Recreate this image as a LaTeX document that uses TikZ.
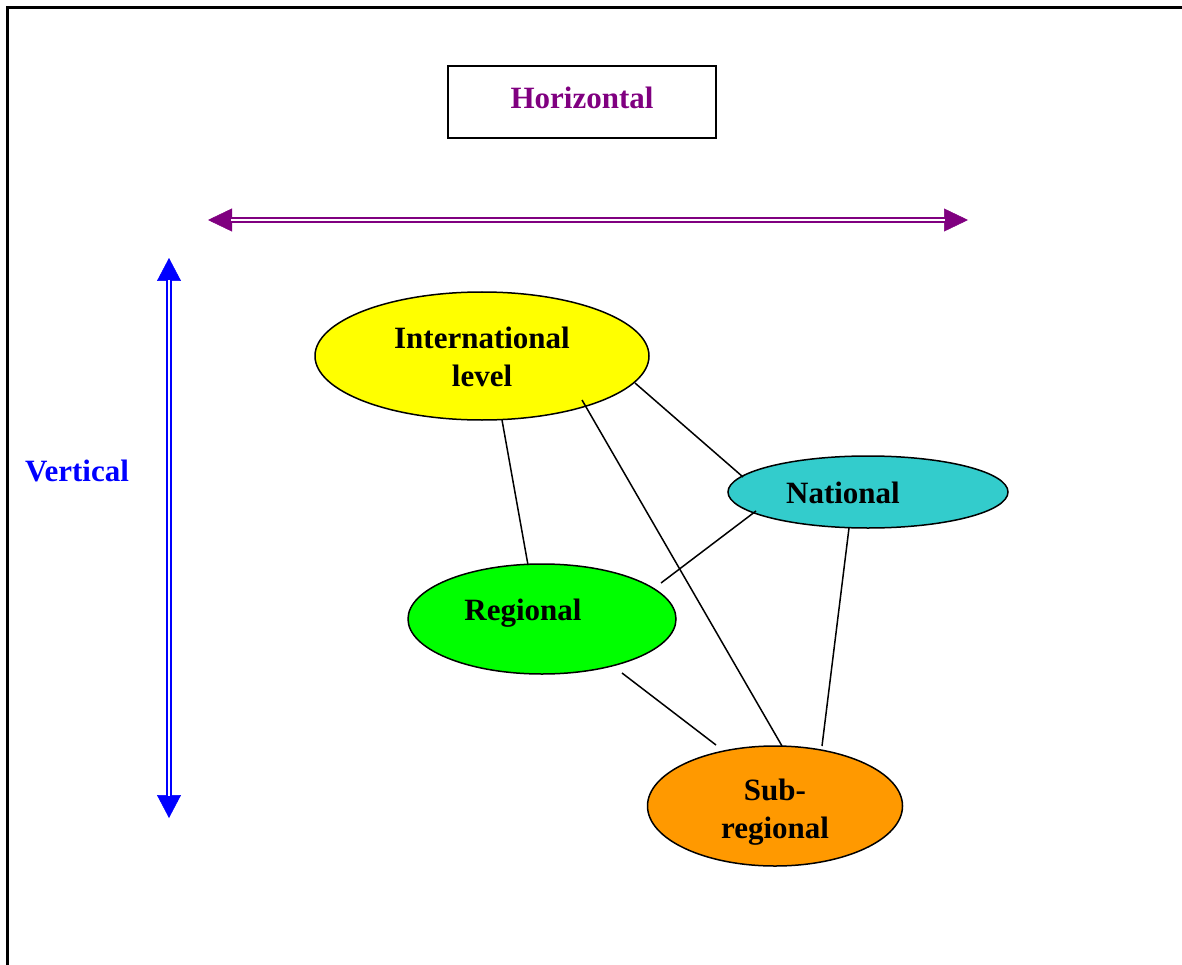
\documentclass[tikz,border=0pt]{standalone}
\usepackage{fontspec}
\setmainfont{Liberation Serif}
\usepackage{tikz}
\usetikzlibrary{arrows.meta, shapes.geometric}
\definecolor{hpurple}{HTML}{800080}
\definecolor{vblue}{HTML}{0000FF}
\definecolor{intlyellow}{HTML}{FFFF00}
\definecolor{natcyan}{HTML}{33CCCC}
\definecolor{reggreen}{HTML}{00FF00}
\definecolor{suborange}{HTML}{FF9900}

\begin{document}
\begin{tikzpicture}[x=1pt, y=-1pt,
    level/.style={ellipse, draw, line width=1.5pt, inner sep=0pt, outer sep=0pt},
    lvltext/.style={font=\fontsize{31}{38}\selectfont\bfseries, align=center},
    link/.style={line width=1.5pt}]
    \useasboundingbox (0,0) rectangle (1182,965);
    % frame
    \draw[line width=3pt] (7,965) -- (7,8) -- (1182,8);

    \node[draw, line width=2pt, minimum width=268pt, minimum height=72pt, text depth=9pt,
          text=hpurple, font=\fontsize{31}{38}\selectfont\bfseries] (hbox) at (582,102) {Horizontal};
    \node[text=vblue, font=\fontsize{31}{38}\selectfont\bfseries] (vlabel) at (77,471) {Vertical};

    % double arrows
    \coordinate (hl) at (208,220);
    \coordinate (hr) at (968,220);
    \coordinate (vt) at (169,258);
    \coordinate (vb) at (169,818);
    \draw[hpurple, line width=0.5pt, {Triangle[length=24pt,width=23pt]}-{Triangle[length=24pt,width=23pt]}] (hl) -- (hr);
    \draw[hpurple, double=white, double distance=2pt, line width=2.2pt, shorten <=23pt, shorten >=23pt] (hl) -- (hr);
    \draw[vblue, line width=0.5pt, {Triangle[length=23pt,width=24pt]}-{Triangle[length=23pt,width=24pt]}] (vt) -- (vb);
    \draw[vblue, double=white, double distance=2pt, line width=2.2pt, shorten <=22pt, shorten >=22pt] (vt) -- (vb);

    % levels
    \node[level, fill=intlyellow, minimum width=334pt, minimum height=128pt] (intl) at (482,356) {};
    \node[level, fill=natcyan, minimum width=280pt, minimum height=72pt] (nat) at (868,492) {};
    \node[level, fill=reggreen, minimum width=268pt, minimum height=110pt] (reg) at (542,619) {};
    \node[level, fill=suborange, minimum width=255pt, minimum height=120pt] (sub) at (775,806) {};

    \node[lvltext] (intltext) at ([shift={(0,1)}]intl.center) {International\\level};
    \node[lvltext] (nattext) at ([shift={(-25,1)}]nat.center) {National};
    \node[lvltext] (regtext) at ([shift={(-19,-6)}]reg.center) {Regional};
    \node[lvltext] (subtext) at ([shift={(0,6)}]sub.center) {Sub-\\regional};

    % links
    \draw[link] ([shift={(20,64)}]intl.center) -- ([shift={(-14,-54)}]reg.center);
    \draw[link] ([shift={(100,44)}]intl.center) -- ([shift={(7,-60)}]sub.center);
    \draw[link] ([shift={(153,27)}]intl.center) -- ([shift={(-125,-15)}]nat.center);
    \draw[link] ([shift={(-112,19)}]nat.center) -- ([shift={(119,-36)}]reg.center);
    \draw[link] ([shift={(-19,36)}]nat.center) -- ([shift={(47,-60)}]sub.center);
    \draw[link] ([shift={(80,54)}]reg.center) -- ([shift={(-59,-61)}]sub.center);
\end{tikzpicture}
\end{document}
